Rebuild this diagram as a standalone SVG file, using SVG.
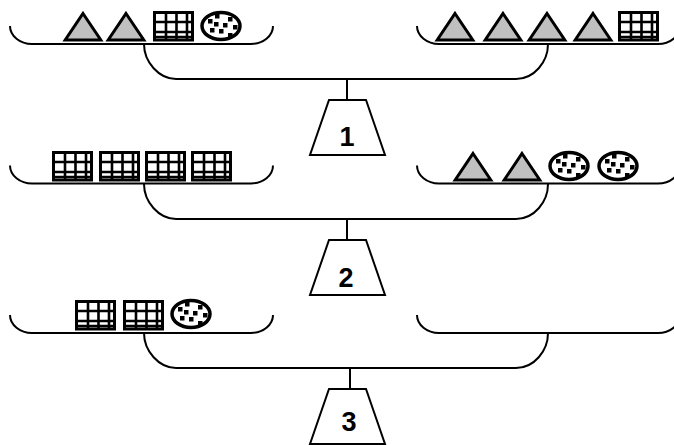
<svg xmlns="http://www.w3.org/2000/svg" width="674" height="445" viewBox="0 0 674 445">
<style>
.l{fill:none;stroke:#000;stroke-width:2}
.w{fill:#fff;stroke:#000;stroke-width:2}
.n{font-family:"Liberation Sans",Arial,sans-serif;font-weight:bold;font-size:27px;text-anchor:middle;fill:#000}
</style>
<defs>
<path id="pan" class="l" d="M0,0C0,10 10,18 22,18H241C253,18 263,10 263,0"/>
<path id="beam" class="l" d="M0,0C0,18 15,35 32,35H372C390,35 404,18 404,0"/>
<polygon id="weight" class="w" points="19,0 56,0 75,55 0,55"/>
<polygon id="tri" points="0,-25.500 17.800,1 -17.800,1" fill="#c0c0c0" stroke="#000" stroke-width="3"/>
<g id="grid">
<rect x="1.500" y="1.500" width="38" height="27.500" fill="#fff" stroke="#000" stroke-width="3"/>
<path d="M13,1V29M23.500,1V29M34,1V29M1,11H40M1,21H40M1,26H40" fill="none" stroke="#000" stroke-width="2.600"/>
</g>
<g id="dots">
<ellipse rx="19" ry="13.500" fill="#fff" stroke="#000" stroke-width="3.500"/>
<path d="M-13,-7h4.500v4.500h-4.500zM-6,-12h4.500v4.500h-4.500zM7,-9h4.500v4.500h-4.500zM12,-1h4.500v4.500h-4.500zM-2,3h4.500v4.500h-4.500zM-11,2h4.500v4.500h-4.500zM7,7h4.500v4.500h-4.500zM-7,-4h4.500v4.500h-4.500zM2,-3h4.500v4.500h-4.500z" fill="#000"/>
</g>
</defs>
<g id="connectors">
<use href="#beam" x="144" y="44"/><path class="l" d="M347,79V100"/>
<use href="#beam" x="144" y="184"/><path class="l" d="M347,219V240"/>
<use href="#beam" x="144" y="333"/><path class="l" d="M350,368V389"/>
</g>
<g id="scale1">
<use href="#pan" x="10" y="26"/><use href="#pan" x="417" y="26"/>
<use href="#tri" x="83" y="39"/><use href="#tri" x="126" y="39"/>
<use href="#grid" x="153" y="11"/><use href="#dots" x="221" y="26"/>
<use href="#tri" x="455" y="39"/><use href="#tri" x="503" y="39"/><use href="#tri" x="547" y="39"/><use href="#tri" x="593" y="39"/>
<use href="#grid" x="618" y="11"/>
</g>
<g id="weight1"><use href="#weight" x="310" y="100"/><text class="n" x="347" y="146">1</text></g>
<g id="scale2">
<use href="#pan" x="10" y="165.500"/><use href="#pan" x="417" y="165.500"/>
<use href="#grid" x="52" y="151"/><use href="#grid" x="99" y="151"/><use href="#grid" x="145" y="151"/><use href="#grid" x="191" y="151"/>
<use href="#tri" x="473" y="179"/><use href="#tri" x="522" y="179"/>
<use href="#dots" x="569" y="166"/><use href="#dots" x="618" y="166"/>
</g>
<g id="weight2"><use href="#weight" x="310" y="240"/><text class="n" x="346" y="287">2</text></g>
<g id="scale3">
<use href="#pan" x="10" y="315"/><use href="#pan" x="417" y="315"/>
<use href="#grid" x="75" y="300"/><use href="#grid" x="123" y="300"/>
<use href="#dots" x="191" y="314"/>
</g>
<g id="weight3"><use href="#weight" x="310" y="389"/><text class="n" x="349" y="431">3</text></g>
</svg>
